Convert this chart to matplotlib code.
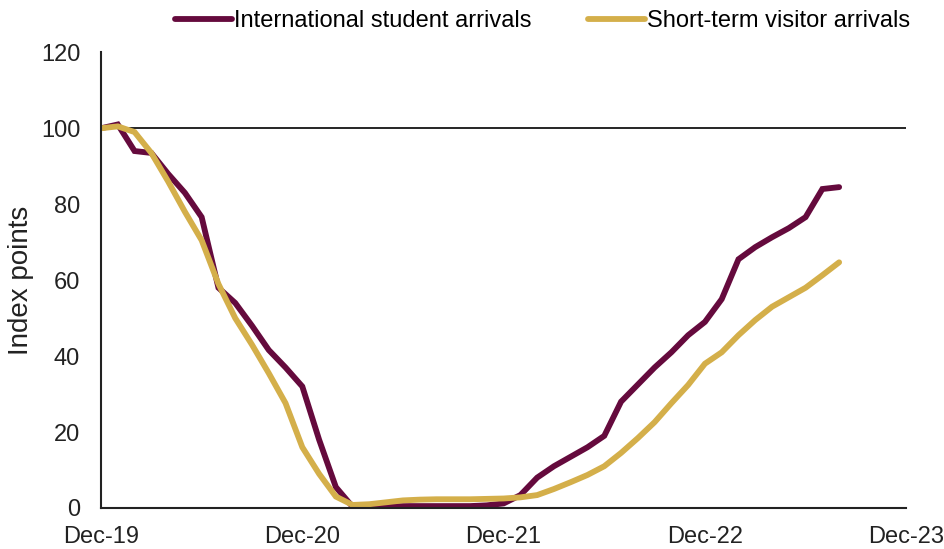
import numpy as np
import matplotlib.pyplot as plt

plt.rcParams['font.family'] = ['Liberation Sans', 'DejaVu Sans']

# months since Dec-19
months = np.arange(45)

students = [100, 101, 94, 93.5, 88, 83, 76.6, 58, 54, 48, 41.6, 37, 32, 18, 5.5, 0.3,
            0.3, 0.4, 0.5, 0.5, 0.5, 0.5, 0.5, 0.7, 1.2, 3.4, 8, 11, 13.5, 16, 19, 28,
            32.5, 37, 41, 45.5, 49, 55, 65.5, 68.7, 71.3, 73.7, 76.6, 84, 84.5]

visitors = [100, 100.5, 99, 93.5, 86, 78, 70.5, 59, 50, 43, 35.5, 27.6, 16, 9, 3, 0.8,
            1, 1.5, 2, 2.2, 2.3, 2.3, 2.3, 2.4, 2.5, 2.8, 3.4, 5, 6.8, 8.7, 11, 14.5,
            18.4, 22.6, 27.6, 32.4, 38, 41, 45.5, 49.5, 53, 55.5, 58, 61.3, 64.7]

tick_pos = [0, 12, 24, 36, 48]
tick_labels = ['Dec-19', 'Dec-20', 'Dec-21', 'Dec-22', 'Dec-23']

fig = plt.figure(figsize=(9.44, 5.49), dpi=100)
ax = fig.add_axes([0.107, 0.0747, 0.853, 0.830])

ax.plot(months, students, color='#650A3D', lw=4.2, label='International student arrivals',
        solid_capstyle='round', solid_joinstyle='miter')
ax.plot(months, visitors, color='#D4AF4A', lw=4.2, label='Short-term visitor arrivals',
        solid_capstyle='round', solid_joinstyle='miter')
ax.axhline(100, color='black', lw=1.2, zorder=0)

ax.set_xlim(0, 48)
ax.set_ylim(0, 120)
ax.set_xticks(tick_pos)
ax.set_xticklabels(tick_labels)
ax.set_yticks(range(0, 121, 20))
ax.tick_params(length=0, labelsize=17, colors='#222222')
ax.tick_params(axis='x', pad=13)
ax.tick_params(axis='y', pad=15)
for s in ['top', 'right']:
    ax.spines[s].set_visible(False)
for s in ['left', 'bottom']:
    ax.spines[s].set_color('#222222')
    ax.spines[s].set_linewidth(1.5)

ax.set_ylabel('Index points', fontsize=20, color='#222222', labelpad=5)

fig.legend(loc='center', bbox_to_anchor=(0.575, 0.962), ncol=2, frameon=False,
           fontsize=17, handlelength=2.4, handletextpad=0.1, columnspacing=2.4)

fig.savefig('out.png', dpi=100)
